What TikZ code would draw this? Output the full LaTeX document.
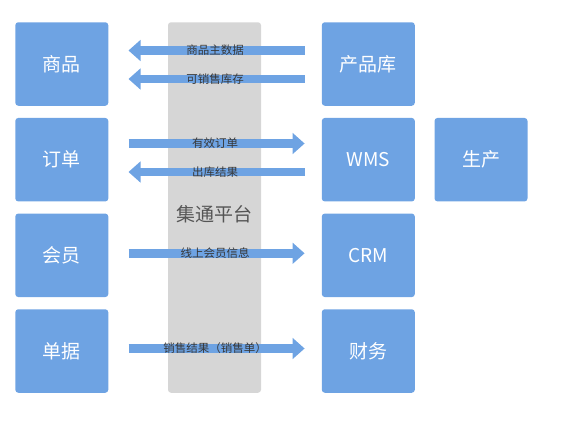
\documentclass[tikz,border=0pt]{standalone}
\usepackage{fontspec}
\setmainfont{Noto Sans CJK SC}
\usetikzlibrary{arrows.meta}
\definecolor{boxblue}{HTML}{6EA3E3}
\definecolor{platgray}{HTML}{D6D6D6}
\definecolor{labgray}{HTML}{383838}
\definecolor{titlegray}{HTML}{555555}

\begin{document}
\begin{tikzpicture}[x=1pt, y=-1pt,
  sysbox/.style={fill=boxblue, rounded corners=3pt, minimum width=93pt, minimum height=83.5pt,
    inner sep=0pt, text=white, font=\fontsize{19}{19}\selectfont},
  flow/.style={boxblue, line width=8.5pt},
  flowr/.style={flow, shorten <=20pt, shorten >=17pt, -{Triangle[length=12pt,width=20.5pt]}},
  flowl/.style={flow, shorten <=20pt, shorten >=17pt, {Triangle[length=12pt,width=20.5pt]}-},
  flowlabel/.style={text=labgray, inner sep=0pt, font=\fontsize{11.5}{11.5}\selectfont}]
\useasboundingbox (0,0) rectangle (588,421);

% platform in the middle
\node[fill=platgray, rounded corners=3pt, minimum width=93pt, minimum height=370.5pt, inner sep=0pt]
  (platform) at (214.5,207.5) {};
\node[text=titlegray, font=\fontsize{19}{19}\selectfont] (platname) at (214.5,214.5) {集通平台};

% left column
\node[sysbox] (goods)  at (61.8,64)    {商品};
\node[sysbox] (order)  at (61.8,159.7) {订单};
\node[sysbox] (member) at (61.8,255.3) {会员};
\node[sysbox] (bill)   at (61.8,351)   {单据};

% right column
\node[sysbox] (pdb)     at (368.3,64)    {产品库};
\node[sysbox] (wms)     at (368.3,159.7) {WMS};
\node[sysbox] (crm)     at (368.3,255.3) {CRM};
\node[sysbox] (finance) at (368.3,351)   {财务};
\node[sysbox] (produce) at (481,159.7)   {生产};

% data flows
\draw[flowl] ([yshift=13.5pt]goods.east) -- ([yshift=13.5pt]pdb.west)
  node[midway, flowlabel] (lab1) {商品主数据};
\draw[flowl] ([yshift=-15pt]goods.east) -- ([yshift=-15pt]pdb.west)
  node[midway, flowlabel] (lab2) {可销售库存};
\draw[flowr] ([yshift=16.2pt]order.east) -- ([yshift=16.2pt]wms.west)
  node[midway, flowlabel] (lab3) {有效订单};
\draw[flowl] ([yshift=-12.3pt]order.east) -- ([yshift=-12.3pt]wms.west)
  node[midway, flowlabel] (lab4) {出库结果};
\draw[flowr] ([yshift=2pt]member.east) -- ([yshift=2pt]crm.west)
  node[midway, flowlabel] (lab5) {线上会员信息};
\draw[flowr] ([yshift=2.5pt]bill.east) -- ([yshift=2.5pt]finance.west)
  node[midway, flowlabel] (lab6) {销售结果（销售单）};
\end{tikzpicture}
\end{document}
